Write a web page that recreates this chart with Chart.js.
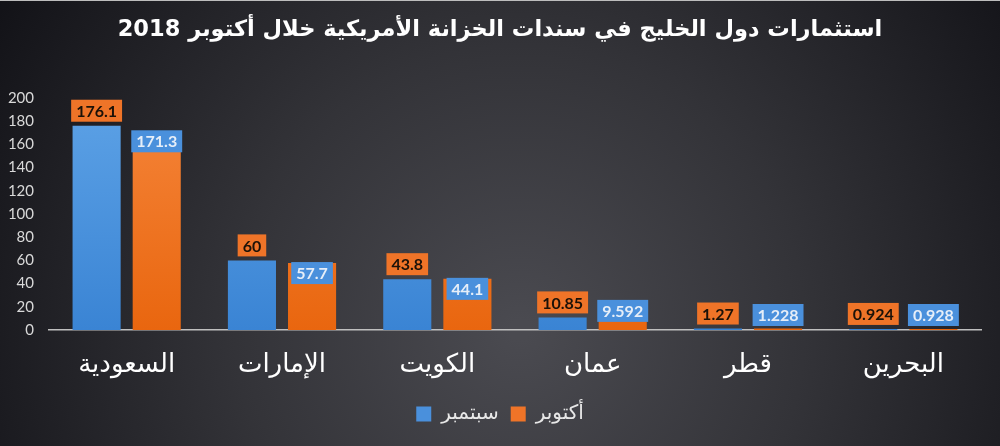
<!DOCTYPE html>
<html>
<head>
<meta charset="utf-8">
<script src="https://cdn.jsdelivr.net/npm/chart.js@4/dist/chart.umd.min.js"></script>
<style>
html,body{margin:0;padding:0;background:#1a1a1f;overflow:hidden}
canvas{display:block}
</style>
</head>
<body>
<canvas id="c" width="1000" height="446"></canvas>
<script>
const titleText = 'استثمارات دول الخليج في سندات الخزانة الأمريكية خلال أكتوبر 2018';
const categories = ['السعودية', 'الإمارات', 'الكويت', 'عمان', 'قطر', 'البحرين'];
const seriesNames = ['سبتمبر', 'أكتوبر'];
const september = [176.1, 60, 43.8, 10.85, 1.27, 0.924];
const october = [171.3, 57.7, 44.1, 9.592, 1.228, 0.928];
const yTicks = [0, 20, 40, 60, 80, 100, 120, 140, 160, 180, 200];

const BLUE = '#4a90dc';
const ORANGE = '#ef7428';

function barGradient(ctx, top, bottom) {
  const chart = ctx.chart;
  const area = chart.chartArea;
  if (!area) return top;
  const g = chart.ctx.createLinearGradient(0, area.top, 0, area.bottom);
  g.addColorStop(0, top);
  g.addColorStop(1, bottom);
  return g;
}

const bgPlugin = {
  id: 'bg',
  beforeDraw(chart) {
    const c = chart.ctx;
    const w = chart.width, h = chart.height;
    c.save();
    const g = c.createRadialGradient(520, 330, 10, 520, 330, 620);
    g.addColorStop(0, '#4a4a50');
    g.addColorStop(0.45, '#333338');
    g.addColorStop(1, '#121217');
    c.fillStyle = g;
    c.fillRect(0, 0, w, h);
    c.fillStyle = '#bdbdbd';
    c.fillRect(0, 0, w, 1);
    c.restore();
  }
};

const labelPlugin = {
  id: 'barLabels',
  afterDatasetsDraw(chart) {
    const c = chart.ctx;
    c.save();
    c.font = 'bold 16px Lato, "Open Sans", sans-serif';
    c.textAlign = 'center';
    c.textBaseline = 'middle';
    const boxH = 22;
    chart.data.datasets.forEach((ds, di) => {
      const meta = chart.getDatasetMeta(di);
      meta.data.forEach((bar, i) => {
        const txt = String(ds.data[i]);
        const tw = c.measureText(txt).width;
        const bw = tw + 10;
        const x = bar.x;
        const top = bar.y;
        const base = bar.base;
        let by;
        if (di === 0) {
          by = top - 4 - boxH;
          c.fillStyle = ORANGE;
        } else {
          if (base - top > 26) {
            by = top - 1;
          } else {
            by = Math.min(top + 3, base - 4) - boxH;
          }
          c.fillStyle = BLUE;
        }
        c.fillRect(x - bw / 2, by, bw, boxH);
        c.fillStyle = di === 0 ? '#1c1208' : '#e6eef8';
        c.fillText(txt, x, by + boxH / 2 + 1);
      });
    });
    c.restore();
  }
};

new Chart(document.getElementById('c'), {
  type: 'bar',
  data: {
    labels: categories,
    datasets: [
      {
        label: seriesNames[0],
        data: september,
        backgroundColor: ctx => barGradient(ctx, '#5da2e6', '#3a84d4'),
        borderWidth: 0
      },
      {
        label: seriesNames[1],
        data: october,
        backgroundColor: ctx => barGradient(ctx, '#f5853a', '#e9660f'),
        borderWidth: 0
      }
    ]
  },
  options: {
    responsive: false,
    devicePixelRatio: 1,
    animation: false,
    barPercentage: 0.8,
    categoryPercentage: 0.774,
    layout: { padding: { left: 0, right: 0, top: 0, bottom: 12 } },
    plugins: {
      title: {
        display: true,
        text: titleText,
        color: '#ffffff',
        font: { family: '"DejaVu Sans", sans-serif', size: 22.5, weight: 'bold' },
        padding: { top: 17, bottom: 54 }
      },
      legend: {
        position: 'bottom',
        labels: {
          color: '#e8e8e8',
          font: { family: '"DejaVu Sans", sans-serif', size: 20 },
          boxWidth: 15,
          boxHeight: 15,
          padding: 12,
          generateLabels: () => [
            { text: seriesNames[0], fillStyle: BLUE, strokeStyle: BLUE, lineWidth: 0, datasetIndex: 0, fontColor: '#e8e8e8' },
            { text: seriesNames[1], fillStyle: ORANGE, strokeStyle: ORANGE, lineWidth: 0, datasetIndex: 1, fontColor: '#e8e8e8' }
          ]
        }
      },
      tooltip: { enabled: false }
    },
    scales: {
      x: {
        grid: { display: false },
        border: { display: true, color: '#bfbfbf', width: 1.5 },
        ticks: {
          color: '#ffffff',
          font: { family: '"DejaVu Sans", sans-serif', size: 26 },
          padding: 12
        },
        afterFit: s => { s.height = 62; }
      },
      y: {
        min: 0,
        max: 200,
        grid: { display: false },
        border: { display: false },
        afterBuildTicks: s => { s.ticks = yTicks.map(v => ({ value: v })); },
        ticks: {
          color: '#d9d9d9',
          font: { family: 'Lato, "Open Sans", sans-serif', size: 15 },
          padding: 7
        },
        afterFit: s => { s.width = 49; }
      },
      yRight: {
        position: 'right',
        grid: { display: false },
        border: { display: false },
        ticks: { display: false },
        afterFit: s => { s.width = 19; }
      }
    }
  },
  plugins: [bgPlugin, labelPlugin]
});
</script>
</body>
</html>
